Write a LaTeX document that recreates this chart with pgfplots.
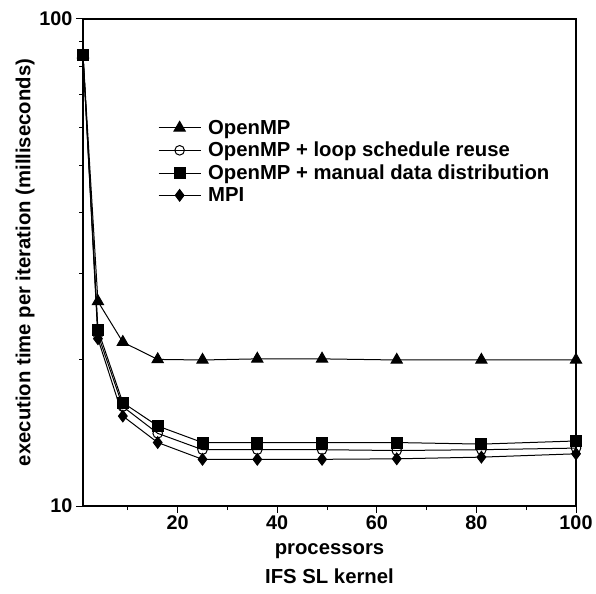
\documentclass[border=0pt]{standalone}
\usepackage{fontspec}
\setmainfont{Liberation Sans}
\usepackage{pgfplots}
\pgfplotsset{compat=1.18}

\begin{document}
\begin{tikzpicture}
\begin{axis}[
  scale only axis,
  width=493pt, height=487pt,
  ymode=log,
  xmin=1, xmax=100, ymin=10, ymax=100,
  xtick={20,40,60,80,100},
  minor xtick={10,30,50,70,90},
  ytick={10,100}, yticklabels={10,100},
  minor ytick={20,30,40,50,60,70,80,90},
  /pgf/number format/assume math mode=true,
  tick pos=left, tick align=outside,
  major tick length=7pt, minor tick length=4pt,
  every tick/.style={black, line width=1pt},
  axis line style={line width=1.2pt},
  tick label style={font=\bfseries\fontsize{19.8}{22}\selectfont},
  xticklabel style={yshift=1pt},
  label style={font=\bfseries\fontsize{20.3}{29}\selectfont},
  xlabel={processors\\IFS SL kernel},
  xlabel style={align=center, yshift=-7pt},
  ylabel={execution time per iteration (milliseconds)},
  ylabel style={yshift=-2pt},
  legend style={draw=none, fill=none, at={(0.152,0.795)}, anchor=north west,
    font=\bfseries\fontsize{20.3}{22}\selectfont, inner sep=0pt,
    row sep=4.5pt, nodes={inner sep=1pt},
    /tikz/every odd column/.append style={column sep=6pt}},
  legend cell align=left,
  legend image code/.code={%
    \draw[mark repeat=2,mark phase=2] plot coordinates {(0pt,0pt)(21pt,0pt)(42pt,0pt)};},
  every axis plot/.append style={black, line width=1pt},
]
\addplot[mark=triangle*, mark size=6.5pt, mark options={fill=black}]
  coordinates {(1,84.5)(4,26.3)(9,21.7)(16,20.0)(25,19.95)(36,20.05)(49,20.05)(64,19.95)(81,19.95)(100,19.95)};
\addplot[mark=o, mark size=4.8pt, mark options={fill=white}]
  coordinates {(1,84.5)(4,22.5)(9,16.0)(16,14.1)(25,13.05)(36,13.05)(49,13.05)(64,13.0)(81,13.05)(100,13.15)};
\addplot[mark=square*, mark size=5.5pt, mark options={fill=black}]
  coordinates {(1,84.5)(4,23.0)(9,16.3)(16,14.6)(25,13.5)(36,13.5)(49,13.5)(64,13.5)(81,13.4)(100,13.6)};
\addplot[mark=diamond*, mark size=5.8pt, mark options={fill=black}]
  coordinates {(1,84.5)(4,22.05)(9,15.3)(16,13.5)(25,12.47)(36,12.47)(49,12.47)(64,12.5)(81,12.6)(100,12.8)};
\legend{OpenMP, OpenMP + loop schedule reuse, OpenMP + manual data distribution, MPI}
\end{axis}
\path (current axis.south west) ++(-83pt,-87pt) (current axis.north east) ++(20pt,19pt);
\end{tikzpicture}
\end{document}
